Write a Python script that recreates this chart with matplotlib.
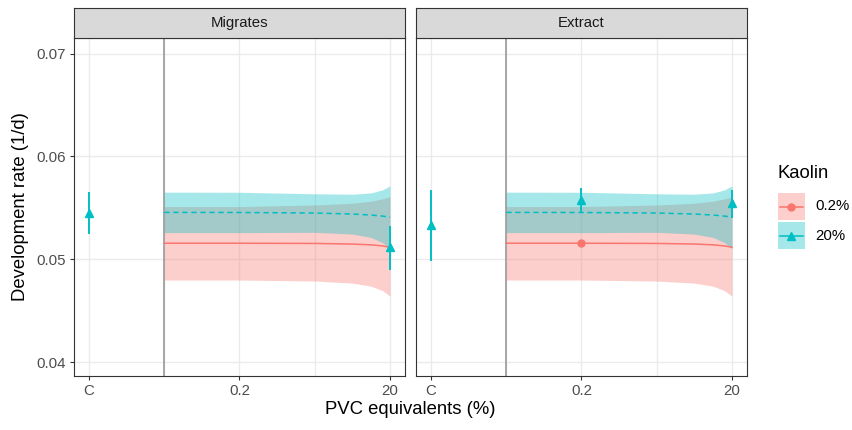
import matplotlib.pyplot as plt
from matplotlib.patches import Rectangle
import numpy as np

plt.rcParams['font.family'] = ['Liberation Sans', 'DejaVu Sans']

W, H = 853, 430

# x axis: C = 0, 0.2 % = 2, 20 % = 4 (log spacing for the doses)
tick_pos = [0, 2, 4]
tick_labels = ['C', '0.2', '20']
y_ticks = [0.04, 0.05, 0.06, 0.07]
panels = ['Migrates', 'Extract']

groups = ['0.2%', '20%']
group_colors = ['#F8766D', '#00BFC4']
group_markers = ['o', '^']
group_msize = [5, 5.8]

# model fit and confidence band, same curve in both panels
fit_x = [1, 2, 3, 3.5, 3.75, 3.9, 4]
fit_low = [0.05156, 0.05156, 0.05154, 0.05148, 0.05140, 0.05130, 0.05117]
fit_low_lo = [0.04798, 0.04798, 0.04788, 0.04768, 0.04738, 0.04695, 0.04642]
fit_low_hi = [0.05513, 0.05513, 0.05528, 0.05545, 0.05565, 0.05588, 0.05607]
fit_high = [0.05456, 0.05455, 0.05450, 0.05440, 0.05430, 0.05420, 0.05409]
fit_high_lo = [0.05259, 0.05259, 0.05262, 0.05245, 0.05212, 0.05162, 0.05104]
fit_high_hi = [0.05653, 0.05652, 0.05637, 0.05633, 0.05646, 0.05675, 0.05714]

# observed means with ranges
obs_panel = ['Migrates', 'Migrates', 'Extract', 'Extract', 'Extract', 'Extract']
obs_group = ['20%', '20%', '20%', '20%', '20%', '0.2%']
obs_x = [0, 4, 0, 2, 4, 2]
obs_y = [0.05454, 0.05117, 0.05334, 0.05578, 0.05546, 0.05156]
obs_lo = [0.05259, 0.04903, 0.04993, 0.05474, 0.05415, 0.05145]
obs_hi = [0.05643, 0.05312, 0.05666, 0.05682, 0.05669, 0.05168]

fits = [(fit_low, fit_low_lo, fit_low_hi, '-'),
        (fit_high, fit_high_lo, fit_high_hi, (0, (3.5, 2.4)))]


def box(x0, y0, x1, y1):
    return [x0 / W, 1 - y1 / H, (x1 - x0) / W, (y1 - y0) / H]


fig = plt.figure(figsize=(W / 100, H / 100), dpi=100)

panel_px = [(74, 38, 405, 376), (416, 38, 747, 376)]
for i, name in enumerate(panels):
    x0, y0, x1, y1 = panel_px[i]
    ax = fig.add_axes(box(x0, y0, x1, y1))
    ax.set_xlim(-0.2, 4.2)
    ax.set_ylim(0.03864, 0.07153)
    for v in range(5):
        ax.axvline(v, color='#EBEBEB', lw=1.0, zorder=0)
    for v in y_ticks:
        ax.axhline(v, color='#EBEBEB', lw=1.0, zorder=0)
    ax.axvline(1, color='#999999', lw=1.2, zorder=1)

    for (f, lo, hi, ls), col in zip(fits, group_colors):
        ax.fill_between(fit_x, lo, hi, color=col, alpha=0.35, lw=0, zorder=2)
    for (f, lo, hi, ls), col in zip(fits, group_colors):
        ax.plot(fit_x, f, color=col, lw=1.1, ls=ls, zorder=3)

    for j in range(len(obs_x)):
        if obs_panel[j] != name:
            continue
        g = groups.index(obs_group[j])
        ax.plot([obs_x[j], obs_x[j]], [obs_lo[j], obs_hi[j]],
                color=group_colors[g], lw=1.4, zorder=4)
        ax.plot(obs_x[j], obs_y[j], marker=group_markers[g],
                ms=group_msize[g], color=group_colors[g], zorder=5)

    ax.set_xticks(tick_pos)
    ax.set_xticklabels(tick_labels)
    ax.set_yticks(y_ticks)
    ax.tick_params(length=3, width=0.8, color='#333333', labelcolor='#4D4D4D',
                   labelsize=10.8, pad=3)
    if i == 0:
        ax.set_yticklabels(['0.04', '0.05', '0.06', '0.07'])
    else:
        ax.tick_params(axis='y', left=False, labelleft=False)
    for s in ax.spines.values():
        s.set_color('#333333')
        s.set_linewidth(0.8)

    # facet strip
    st = fig.add_axes(box(x0, 8, x1, y0))
    st.set_facecolor('#D9D9D9')
    st.set_xticks([])
    st.set_yticks([])
    for s in st.spines.values():
        s.set_color('#333333')
        s.set_linewidth(0.8)
    st.text(0.5, 0.5, name, ha='center', va='center', fontsize=10.8,
            color='#1A1A1A', transform=st.transAxes)

# axis titles and legend, placed in pixel coordinates
ov = fig.add_axes([0, 0, 1, 1])
ov.set_xlim(0, W)
ov.set_ylim(H, 0)
ov.axis('off')
ov.text(410.5, 410, 'PVC equivalents (%)', ha='center', va='center', fontsize=13.3)
ov.text(21, 207, 'Development rate (1/d)', ha='center', va='center',
        rotation=90, fontsize=13.3)

ov.text(778, 173, 'Kaolin', ha='left', va='center', fontsize=13.3)
for g, lab in enumerate(groups):
    ky = 193 + g * 29
    ov.add_patch(Rectangle((778, ky), 27, 27, facecolor=group_colors[g],
                           alpha=0.35, lw=0))
    ov.plot([780, 803], [ky + 13.5, ky + 13.5], color=group_colors[g], lw=1.1)
    ov.plot(791.5, ky + 13.5, marker=group_markers[g],
            ms=group_msize[g], color=group_colors[g])
    ov.text(815, ky + 13.5, lab, ha='left', va='center', fontsize=10.8)

fig.savefig('out.png', dpi=100)
